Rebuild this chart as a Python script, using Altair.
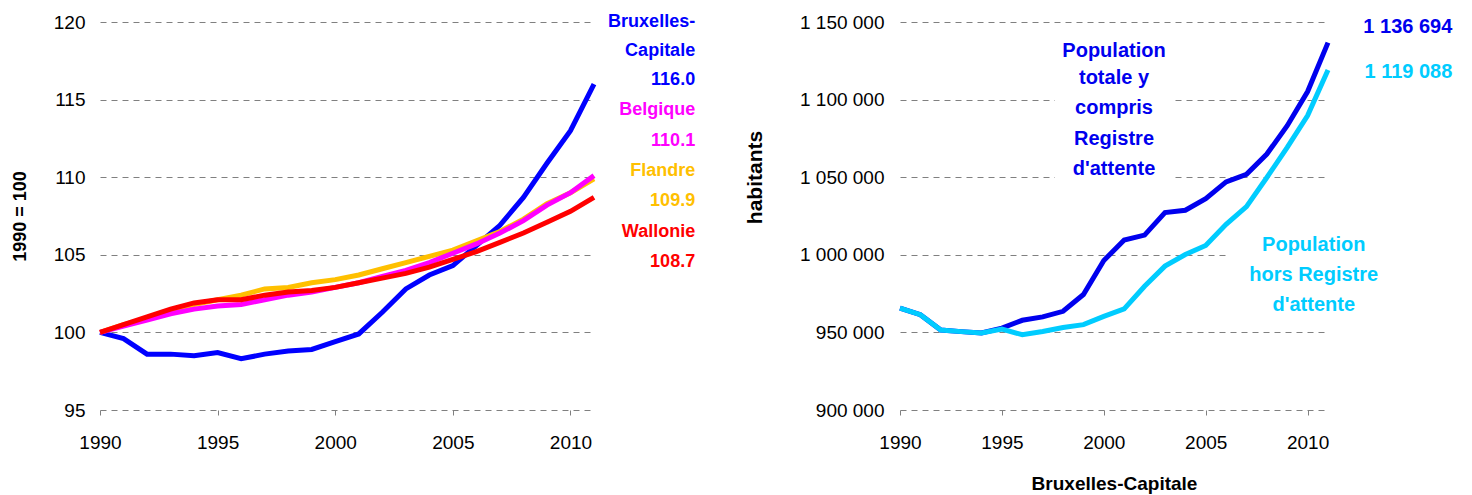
import altair as alt
import pandas as pd

FONT = "Liberation Sans"

years = list(range(1990, 2012))

bruxelles = [100, 99.6, 98.6, 98.6, 98.5, 98.7, 98.3, 98.6, 98.8, 98.9, 99.4, 99.9,
             101.3, 102.8, 103.7, 104.3, 105.6, 106.9, 108.7, 110.9, 113.0, 116.0]
belgique = [100, 100.4, 100.8, 101.2, 101.5, 101.7, 101.8, 102.1, 102.4, 102.6, 102.9, 103.2,
            103.6, 104.0, 104.5, 105.1, 105.7, 106.4, 107.2, 108.2, 109.0, 110.1]
flandre = [100, 100.5, 100.9, 101.4, 101.8, 102.1, 102.4, 102.8, 102.9, 103.2, 103.4, 103.7,
           104.1, 104.5, 104.9, 105.3, 105.9, 106.5, 107.3, 108.3, 109.0, 109.9]
wallonie = [100, 100.5, 101.0, 101.5, 101.9, 102.1, 102.1, 102.4, 102.6, 102.7, 102.9, 103.2,
            103.5, 103.8, 104.2, 104.7, 105.2, 105.8, 106.4, 107.1, 107.8, 108.7]

pop_totale = [965700, 961400, 951500, 950500, 949600, 952800, 957800, 960000, 963600, 974400,
              996300, 1009500, 1012700, 1027200, 1028700, 1036200, 1047000, 1051900, 1064900,
              1083200, 1105200, 1136694]
pop_hors = [965700, 961400, 951500, 950500, 949600, 952100, 948500, 950600, 953200, 955000,
            960300, 965100, 979700, 992700, 1000200, 1006000, 1019600, 1031000, 1049800,
            1069200, 1089700, 1119088]

# drawing order: Bruxelles at the bottom, Wallonie on top
regions = ["Bruxelles-Capitale", "Flandre", "Belgique", "Wallonie"]
region_colors = ["#0000FF", "#FFC000", "#FF00FF", "#FF0000"]
series_left = [bruxelles, flandre, belgique, wallonie]

pops = ["Population totale", "Population hors Registre"]
pop_colors = ["#0000EE", "#00CCFF"]
series_right = [pop_totale, pop_hors]

# annotation texts (left panel), positioned in data units
left_lab_text = ["Bruxelles-", "Capitale", "116.0", "Belgique", "110.1", "Flandre", "109.9",
                 "Wallonie", "108.7"]
left_lab_y = [120.0, 118.15, 116.25, 114.3, 112.35, 110.4, 108.45, 106.5, 104.55]
left_lab_color = ["#0000FF", "#0000FF", "#0000FF", "#FF00FF", "#FF00FF", "#FFC000", "#FFC000",
                  "#FF0000", "#FF0000"]
left_lab_x = 2015.3

right_end_text = ["1 136 694", "1 119 088"]
right_end_y = [1147000, 1117500]
right_end_x = 2017.1

tot_text = ["Population", "totale y", "compris", "Registre", "d'attente"]
tot_y = [1131200, 1113700, 1094300, 1074900, 1055400]
tot_x = 2000.5

hors_text = ["Population", "hors Registre", "d'attente"]
hors_y = [1006200, 986800, 967400]
hors_x = 2010.3

# white boxes behind the text, interrupting the gridlines
box_x = [1997.6, 2006.1]
box_x2 = [2003.4, 2011.3]
box_y = [1045000, 985000]
box_y2 = [1140000, 1015000]

left_df = pd.DataFrame([
    {"year": y, "value": v, "region": r}
    for r, s in zip(regions, series_left) for y, v in zip(years, s)
])
right_df = pd.DataFrame([
    {"year": y, "value": v, "serie": p}
    for p, s in zip(pops, series_right) for y, v in zip(years, s)
])
left_lab_df = pd.DataFrame({"t": left_lab_text, "y": left_lab_y, "c": left_lab_color,
                            "x": [left_lab_x] * len(left_lab_text)})
right_end_df = pd.DataFrame({"t": right_end_text, "y": right_end_y, "c": pop_colors,
                             "x": [right_end_x] * 2})
tot_df = pd.DataFrame({"t": tot_text, "y": tot_y, "x": [tot_x] * len(tot_text)})
hors_df = pd.DataFrame({"t": hors_text, "y": hors_y, "x": [hors_x] * len(hors_text)})
box_df = pd.DataFrame({"x": box_x, "x2": box_x2, "y": box_y, "y2": box_y2})

W_L = 494
W_R = 428
H = 388

x_left = alt.X("year:Q", scale=alt.Scale(domain=[1990, 2011], nice=False, zero=False),
               axis=alt.Axis(values=[1990, 1995, 2000, 2005, 2010], format="d", grid=False,
                             domain=False, ticks=True, tickSize=5, tickColor="#808080",
                             labelPadding=18, labelFlush=False, title=None))
y_left_scale = alt.Scale(domain=[95, 120], nice=False, zero=False)

left_lines = alt.Chart(left_df).mark_line(strokeWidth=5, clip=False).encode(
    x=x_left,
    y=alt.Y("value:Q", scale=y_left_scale,
            axis=alt.Axis(values=[95, 100, 105, 110, 115, 120], title="1990 = 100",
                          titleFontSize=18, titlePadding=24, labelPadding=15)),
    color=alt.Color("region:N", scale=alt.Scale(domain=regions, range=region_colors),
                    legend=None),
)

left_text = alt.Chart(left_lab_df).mark_text(align="right", baseline="middle", fontSize=18,
                                             fontWeight="bold", font=FONT).encode(
    x=alt.X("x:Q"), y=alt.Y("y:Q"), text="t:N",
    color=alt.Color("c:N", scale=None),
)

left = alt.layer(left_lines, left_text).properties(width=W_L, height=H)

x_right = alt.X("year:Q", scale=alt.Scale(domain=[1990, 2011], nice=False, zero=False),
                axis=alt.Axis(values=[1990, 1995, 2000, 2005, 2010], format="d", grid=False,
                              domain=False, ticks=True, tickSize=5, tickColor="#808080",
                              labelPadding=18, labelFlush=False, title="Bruxelles-Capitale",
                              titleFontSize=19, titlePadding=22))
y_right_scale = alt.Scale(domain=[900000, 1150000], nice=False, zero=False)
y_right_axis = alt.Axis(values=[900000, 950000, 1000000, 1050000, 1100000, 1150000],
                        title="habitants", titleFontSize=21, titlePadding=34, titleY=155,
                        labelPadding=16,
                        labelExpr="replace(replace(format(datum.value, ','), ',', ' '), ',', ' ')")

boxes = alt.Chart(box_df).mark_rect(color="white").encode(
    x=alt.X("x:Q", scale=alt.Scale(domain=[1990, 2011], nice=False, zero=False)),
    x2="x2:Q",
    y=alt.Y("y:Q", scale=y_right_scale), y2="y2:Q",
)

right_lines = alt.Chart(right_df).mark_line(strokeWidth=5, clip=False).encode(
    x=x_right,
    y=alt.Y("value:Q", scale=y_right_scale, axis=y_right_axis),
    color=alt.Color("serie:N", scale=alt.Scale(domain=pops, range=pop_colors), legend=None),
)

right_end = alt.Chart(right_end_df).mark_text(align="right", baseline="middle", fontSize=20,
                                              fontWeight="bold", font=FONT).encode(
    x="x:Q", y="y:Q", text="t:N", color=alt.Color("c:N", scale=None))

tot_txt = alt.Chart(tot_df).mark_text(align="center", baseline="middle", fontSize=20,
                                      fontWeight="bold", font=FONT, color=pop_colors[0]).encode(
    x="x:Q", y="y:Q", text="t:N")

hors_txt = alt.Chart(hors_df).mark_text(align="center", baseline="middle", fontSize=20,
                                        fontWeight="bold", font=FONT, color=pop_colors[1]).encode(
    x="x:Q", y="y:Q", text="t:N")

right = alt.layer(boxes, right_lines, right_end, tot_txt, hors_txt).properties(width=W_R, height=H)

chart = alt.hconcat(left, right, spacing=48).resolve_scale(color="independent").properties(
    padding={"left": 3, "top": 5, "right": 5, "bottom": 5}
).configure_view(stroke=None).configure_axis(
    labelFont=FONT, titleFont=FONT, labelFontSize=19, titleFontWeight="bold",
    labelColor="#000000", titleColor="#000000",
    gridColor="#808080", gridDash=[6, 5], gridWidth=1,
).configure_axisY(domain=False, ticks=False, grid=True)

chart.save("out.html", embed_options={"renderer": "svg", "actions": False})
